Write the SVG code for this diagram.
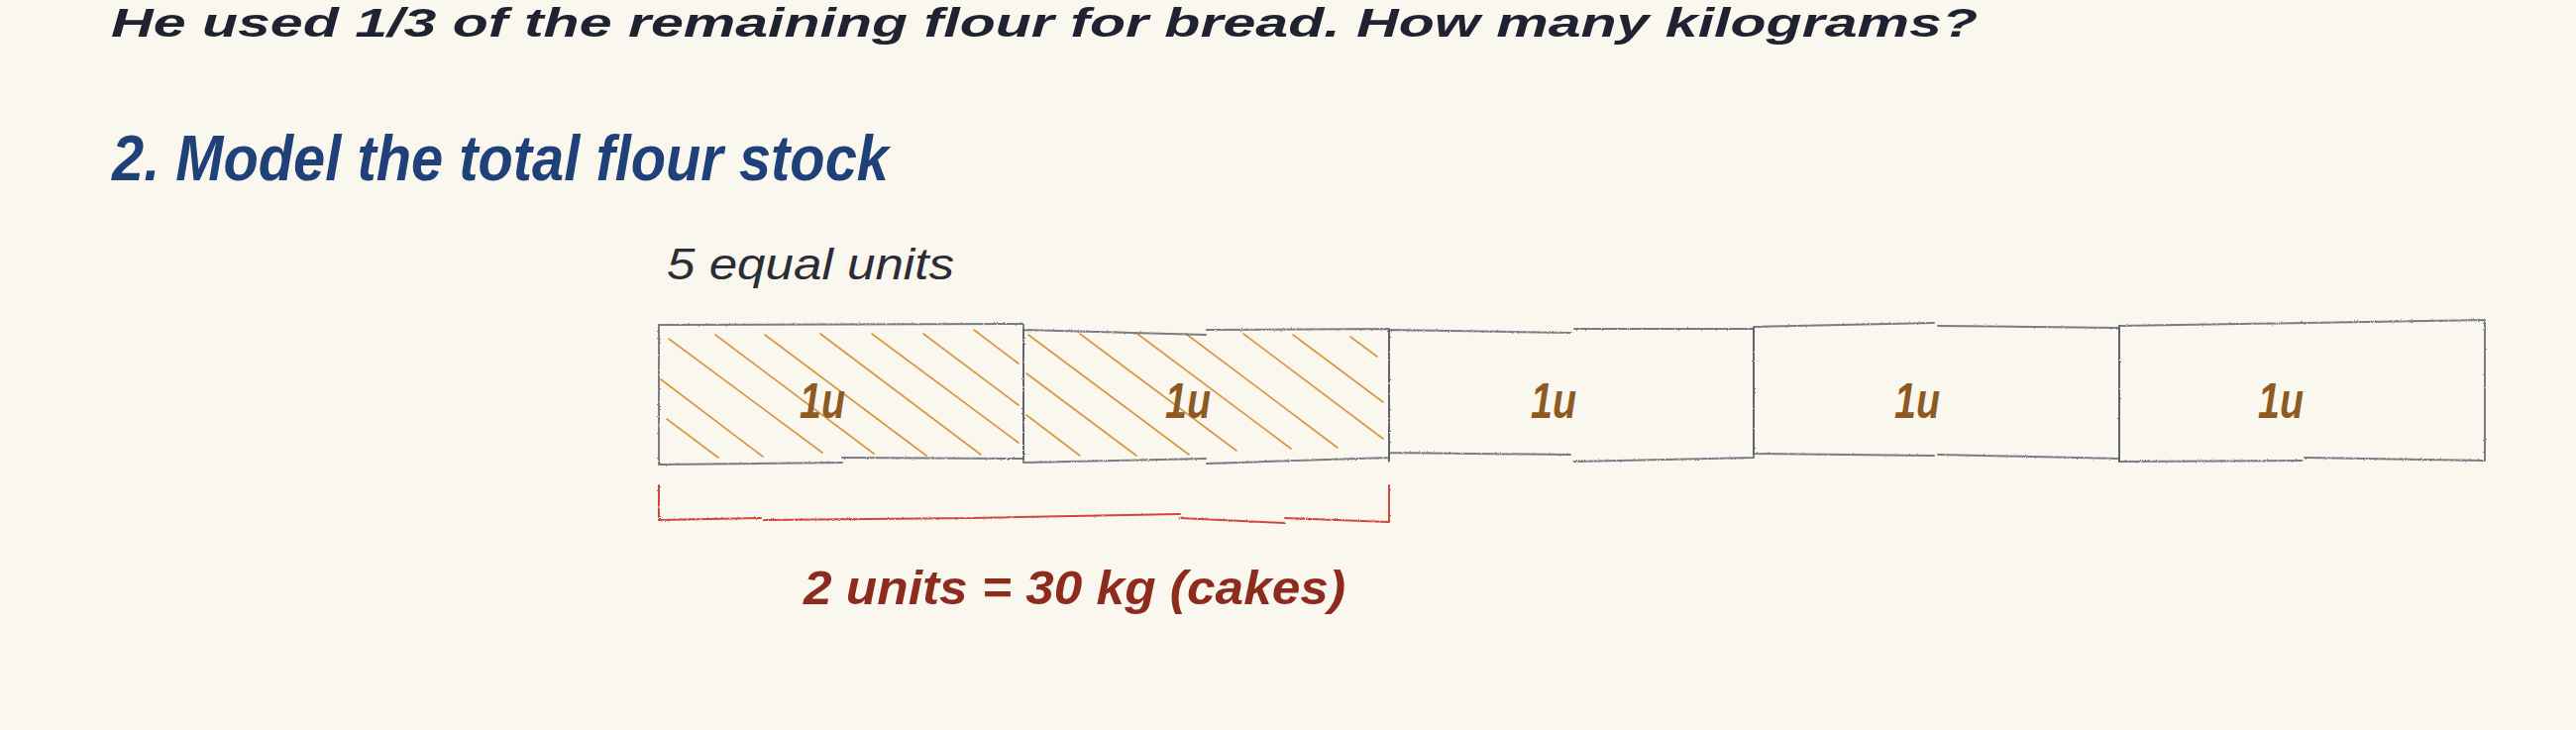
<svg xmlns="http://www.w3.org/2000/svg" width="2600" height="737" viewBox="0 0 2600 737">
  <defs>
    <filter id="pencil" x="-2%" y="-10%" width="104%" height="120%">
      <feTurbulence type="fractalNoise" baseFrequency="0.9" numOctaves="2" seed="3" result="n"/>
      <feDisplacementMap in="SourceGraphic" in2="n" scale="2.2" xChannelSelector="R" yChannelSelector="G"/>
    </filter>
    <style>
      .bg { fill: #faf7ef; }
      .title { font-family: "Liberation Sans", Arial, sans-serif; font-weight: bold; font-style: italic; font-size: 40px; fill: #1f2230; }
      .heading { font-family: "Liberation Sans", Arial, sans-serif; font-weight: bold; font-style: italic; font-size: 64px; fill: #1f4078; }
      .note { font-family: "Liberation Sans", Arial, sans-serif; font-style: italic; font-size: 44px; fill: #2b2d36; }
      .unit-label { font-family: "Liberation Sans", Arial, sans-serif; font-weight: bold; font-style: italic; font-size: 50px; fill: #8c5a22; }
      .brace-label { font-family: "Liberation Sans", Arial, sans-serif; font-weight: bold; font-style: italic; font-size: 48px; fill: #8e2b1f; }
      .box { fill: none; stroke: #5a5e6a; stroke-width: 2; stroke-opacity: 0.8; stroke-linecap: round; filter: url(#pencil); }
      .hatch { fill: none; stroke: #d8963e; stroke-width: 1.6; stroke-linecap: round; }
      .brace { fill: none; stroke: #cc4a3c; stroke-width: 2; stroke-linecap: round; filter: url(#pencil); }
    </style>
  </defs>

  <rect class="bg" x="0" y="0" width="2600" height="737"/>

  <g id="title">
    <text class="title" x="112" y="37" textLength="1884" lengthAdjust="spacingAndGlyphs">He used 1/3 of the remaining flour for bread. How many kilograms?</text>
  </g>

  <g id="heading">
    <text class="heading" x="113" y="182" textLength="784" lengthAdjust="spacingAndGlyphs">2. Model the total flour stock</text>
  </g>

  <g id="units-note">
    <text class="note" x="673" y="282" textLength="290" lengthAdjust="spacingAndGlyphs">5 equal units</text>
  </g>

  <g id="unit-1">
    <g class="hatch">
      <path d="M673,423 L725,462"/>
      <path d="M667,383 L770,461"/>
      <path d="M675,342 L830,457"/>
      <path d="M722,338 L882,458"/>
      <path d="M772,338 L935,460"/>
      <path d="M828,337 L990,459"/>
      <path d="M880,337 L1028,447"/>
      <path d="M932,337 L1028,409"/>
      <path d="M983,333 L1028,367"/>
    </g>
    <path class="box" d="M665,328 L1033,327 M665,328 L665,469 M665,469 L850,467 M850,462 L1033,463 M1033,327 L1033,463"/>
    <text class="unit-label" x="807" y="422" textLength="46" lengthAdjust="spacingAndGlyphs">1u</text>
  </g>

  <g id="unit-2">
    <g class="hatch">
      <path d="M1036,419 L1090,460"/>
      <path d="M1036,377 L1147,460"/>
      <path d="M1038,338 L1200,459"/>
      <path d="M1090,337 L1248,455"/>
      <path d="M1148,337 L1303,453"/>
      <path d="M1197,337 L1350,452"/>
      <path d="M1255,337 L1396,443"/>
      <path d="M1305,338 L1396,406"/>
      <path d="M1363,340 L1390,360"/>
    </g>
    <path class="box" d="M1033,333 L1217,338 M1218,333 L1402,332 M1033,333 L1033,467 M1033,467 L1217,463 M1218,468 L1402,462 M1402,332 L1402,466"/>
    <text class="unit-label" x="1176" y="422" textLength="46" lengthAdjust="spacingAndGlyphs">1u</text>
  </g>

  <g id="unit-3">
    <path class="box" d="M1402,333 L1585,336 M1589,332 L1770,332 M1402,333 L1402,466 M1402,457 L1585,459 M1589,466 L1770,462 M1770,331 L1770,462"/>
    <text class="unit-label" x="1545" y="422" textLength="46" lengthAdjust="spacingAndGlyphs">1u</text>
  </g>

  <g id="unit-4">
    <path class="box" d="M1770,330 L1952,326 M1956,329 L2139,331 M1770,330 L1770,458 M1770,458 L1952,460 M1956,459 L2139,463 M2139,329 L2139,466"/>
    <text class="unit-label" x="1912" y="422" textLength="46" lengthAdjust="spacingAndGlyphs">1u</text>
  </g>

  <g id="unit-5">
    <path class="box" d="M2139,329 L2508,323 M2139,329 L2139,466 M2139,466 L2323,465 M2326,462 L2508,465 M2508,323 L2508,465"/>
    <text class="unit-label" x="2279" y="422" textLength="46" lengthAdjust="spacingAndGlyphs">1u</text>
  </g>

  <g id="connectors">
    <path class="brace" d="M665,490 L665,525 M665,525 L768,523 M771,525 L979,523 M979,523 L1191,519 M1191,523 L1297,528 M1297,523 L1402,527 M1402,490 L1402,527"/>
  </g>

  <g id="brace-label">
    <text class="brace-label" x="811" y="610" textLength="547" lengthAdjust="spacingAndGlyphs">2 units = 30 kg (cakes)</text>
  </g>
</svg>
